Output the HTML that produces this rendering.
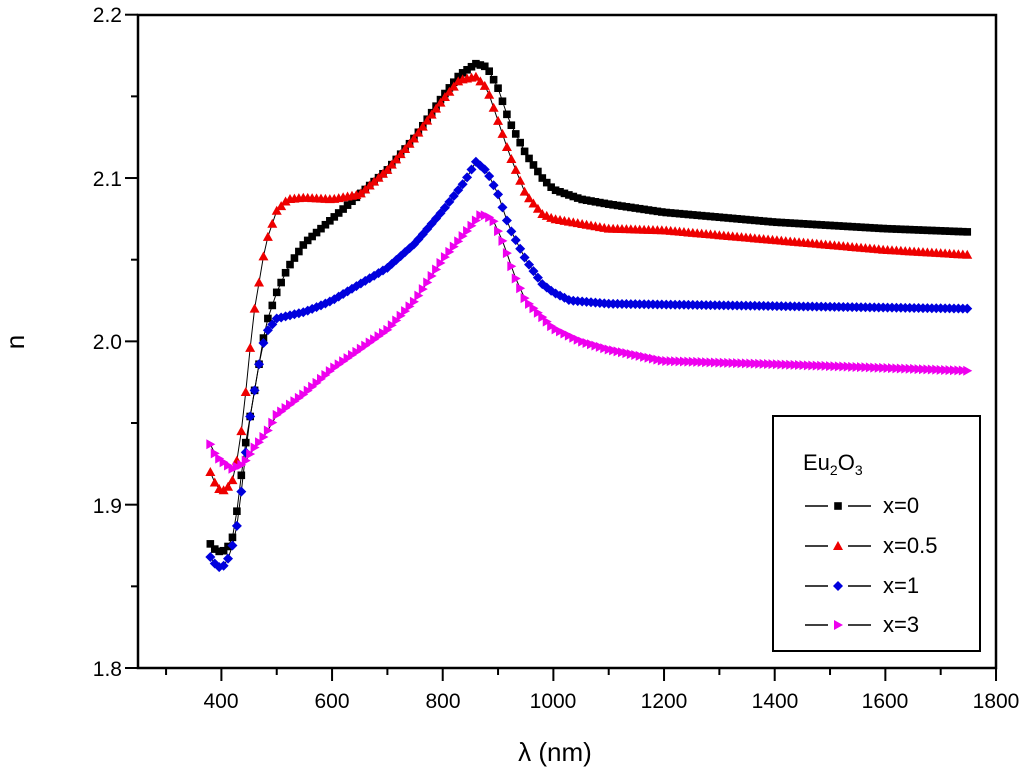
<!DOCTYPE html>
<html><head><meta charset="utf-8"><style>body{margin:0;background:#fff}svg{display:block}text{font-family:"Liberation Sans",sans-serif}</style></head>
<body>
<svg id="s" width="1024" height="783" viewBox="0 0 1024 783">
<g stroke="#000" stroke-width="2.5" fill="none">
<rect x="138" y="15" width="858" height="653"/>
</g>
<g id="ticks" stroke="#000" stroke-width="2"></g>
<g font-size="21" fill="#000">
<text x="122" y="22" text-anchor="end">2.2</text>
<text x="122" y="186" text-anchor="end">2.1</text>
<text x="122" y="349" text-anchor="end">2.0</text>
<text x="122" y="513" text-anchor="end">1.9</text>
<text x="122" y="676" text-anchor="end">1.8</text>
<text x="221" y="708" text-anchor="middle">400</text>
<text x="332" y="708" text-anchor="middle">600</text>
<text x="443" y="708" text-anchor="middle">800</text>
<text x="553" y="708" text-anchor="middle">1000</text>
<text x="664" y="708" text-anchor="middle">1200</text>
<text x="775" y="708" text-anchor="middle">1400</text>
<text x="885" y="708" text-anchor="middle">1600</text>
<text x="996" y="708" text-anchor="middle">1800</text>
<text x="555" y="761" text-anchor="middle" font-size="26">λ (nm)</text>
<text transform="translate(24,342) rotate(-90)" text-anchor="middle" font-size="26">n</text>
</g>
<g id="data"></g>
<rect x="773" y="416" width="207" height="235" fill="#fff" stroke="#000" stroke-width="2"/>
<g font-size="22" fill="#000">
<text x="803" y="470">Eu<tspan font-size="14" dy="5">2</tspan><tspan dy="-5">O</tspan><tspan font-size="14" dy="5">3</tspan></text>
<text x="883" y="513">x=0</text>
<text x="883" y="553">x=0.5</text>
<text x="883" y="593">x=1</text>
<text x="883" y="632">x=3</text>
</g>
<g id="leg"></g>
</svg>
<script>
const NS="http://www.w3.org/2000/svg";
const X=l=>221.4+(l-400)*0.5533, Y=n=>668-(n-1.8)*1633.25;
const tk=document.getElementById('ticks');
function ln(g,x1,y1,x2,y2,c,w){const e=document.createElementNS(NS,'line');e.setAttribute('x1',x1);e.setAttribute('y1',y1);e.setAttribute('x2',x2);e.setAttribute('y2',y2);e.setAttribute('stroke',c||'#000');e.setAttribute('stroke-width',w||2);g.appendChild(e);}
for(let v=1.8;v<=2.201;v+=0.05){const y=Y(v);ln(tk,138,y,(Math.round(v*100)%10==0)?125:131,y);}
for(let l=300;l<=1800;l+=100){const x=X(l);ln(tk,x,668,x,(l%200==0)?681:675);}
const S=[
{c:'#000',m:'sq',d:[[380,1.876],[390,1.872],[400,1.871],[410,1.873],[420,1.88],[430,1.9],[440,1.93],[450,1.95],[460,1.97],[470,1.99],[480,2.01],[500,2.03],[520,2.045],[550,2.06],[600,2.075],[650,2.09],[700,2.105],[750,2.125],[800,2.15],[830,2.163],[860,2.17],[880,2.168],[900,2.155],[920,2.135],[950,2.115],[980,2.1],[1000,2.093],[1050,2.087],[1100,2.084],[1200,2.079],[1400,2.073],[1600,2.069],[1750,2.067]]},
{c:'#e00',m:'up',d:[[380,1.92],[390,1.912],[400,1.908],[410,1.91],[420,1.915],[430,1.93],[440,1.955],[450,1.99],[460,2.02],[470,2.04],[480,2.06],[500,2.08],[520,2.087],[550,2.088],[600,2.087],[650,2.09],[700,2.105],[750,2.125],[800,2.148],[830,2.16],[860,2.162],[880,2.155],[900,2.135],[920,2.115],[950,2.09],[980,2.078],[1000,2.075],[1100,2.069],[1200,2.068],[1400,2.062],[1600,2.056],[1750,2.053]]},
{c:'#00d',m:'di',d:[[380,1.868],[390,1.863],[400,1.861],[410,1.865],[420,1.875],[430,1.89],[440,1.92],[450,1.95],[460,1.97],[470,1.99],[480,2.005],[500,2.014],[550,2.018],[580,2.022],[600,2.025],[700,2.045],[750,2.06],[800,2.08],[840,2.098],[860,2.11],[880,2.104],[900,2.09],[920,2.07],[950,2.05],[980,2.035],[1000,2.03],[1030,2.025],[1100,2.023],[1750,2.02]]},
{c:'#e0e',m:'rt',d:[[380,1.937],[390,1.93],[400,1.927],[420,1.922],[440,1.925],[460,1.935],[480,1.943],[500,1.955],[550,1.968],[600,1.983],[700,2.007],[750,2.025],[800,2.05],[850,2.07],[870,2.078],[890,2.075],[910,2.06],[930,2.04],[950,2.025],[1000,2.008],[1050,2],[1100,1.995],[1200,1.988],[1400,1.986],[1750,1.982]]}];
function interp(d,l){for(let i=0;i<d.length-1;i++){if(l<=d[i+1][0]){const t=(l-d[i][0])/(d[i+1][0]-d[i][0]);return d[i][1]+t*(d[i+1][1]-d[i][1]);}}return d[d.length-1][1];}
function mk(g,x,y,m,c){let e;const r=5;
 if(m=='sq'){e=document.createElementNS(NS,'rect');e.setAttribute('x',x-3.8);e.setAttribute('y',y-3.8);e.setAttribute('width',7.6);e.setAttribute('height',7.6);}
 else{e=document.createElementNS(NS,'polygon');let p;
  if(m=='up')p=[[x,y-r],[x+r,y+r*0.8],[x-r,y+r*0.8]];
  else if(m=='di')p=[[x,y-r],[x+r,y],[x,y+r],[x-r,y]];
  else p=[[x+r,y],[x-r*0.8,y-r],[x-r*0.8,y+r]];
  e.setAttribute('points',p.map(q=>q.join(',')).join(' '));}
 e.setAttribute('fill',c);g.appendChild(e);}
const g=document.getElementById('data');
S.forEach(s=>{let pts=[];for(let l=380;l<=1752;l+=8){pts.push([X(l),Y(interp(s.d,l))]);}
 const p=document.createElementNS(NS,'polyline');p.setAttribute('points',pts.map(q=>q.join(',')).join(' '));p.setAttribute('fill','none');p.setAttribute('stroke','#000');p.setAttribute('stroke-width',1);g.appendChild(p);
 pts.forEach(q=>mk(g,q[0],q[1],s.m,s.c));});
const lg=document.getElementById('leg');
[[506,0],[546,1],[586,2],[625,3]].forEach(([y,i])=>{ln(lg,805,y,828,y,'#000',1.5);ln(lg,848,y,871,y,'#000',1.5);mk(lg,838,y,S[i].m,S[i].c);});
</script>
</body></html>
